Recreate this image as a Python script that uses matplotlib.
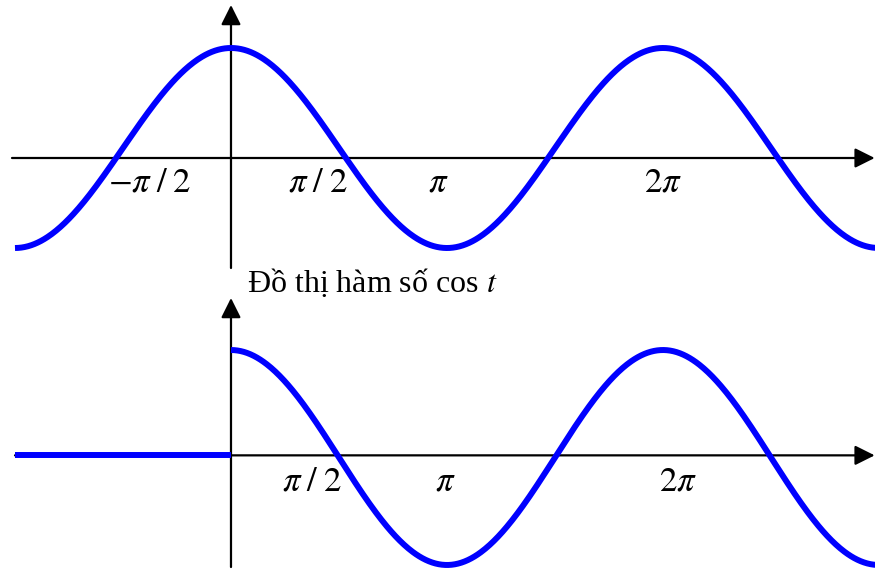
import numpy as np
import matplotlib.pyplot as plt

plt.rcParams['mathtext.fontset'] = 'stix'
plt.rcParams['font.family'] = ['Liberation Serif', 'DejaVu Serif']

# range of t for both curves (in radians)
t_start = -np.pi
t_end = 3 * np.pi

# tick labels of each panel and where they sit (multiples of pi)
top_labels = [r'$-\pi\;/\;2$', r'$\pi\;/\;2$', r'$\pi$', r'$2\pi$']
top_label_pos = [-0.375, 0.403, 0.958, 2.0]
bottom_labels = [r'$\pi\;/\;2$', r'$\pi$', r'$2\pi$']
bottom_label_pos = [0.375, 0.991, 2.07]

caption = 'Đồ thị hàm số cos $t$'

BLUE = '#0000ff'
xlim = (-1.0694 * np.pi, 2.9815 * np.pi)


def draw_axes(ax, x_from, level, y_from, y_to):
    arrow = dict(arrowstyle='-|>,head_length=0.6,head_width=0.3',
                 color='black', lw=1.6, mutation_scale=20, shrinkA=0, shrinkB=0)
    ax.annotate('', xy=(xlim[1] - 0.005, level), xytext=(x_from, level),
                arrowprops=arrow, annotation_clip=False)
    ax.annotate('', xy=(0, y_to), xytext=(0, y_from),
                arrowprops=arrow, annotation_clip=False)


def main():
    fig = plt.figure(figsize=(8.75, 5.71), dpi=100)

    # top panel: cos t over the whole range (the drawn t axis sits a bit low)
    ax1 = fig.add_axes([0, 296 / 571, 1, 275 / 571])
    ax1.set_xlim(*xlim)
    ax1.set_ylim(-1.27, 1.48)
    ax1.axis('off')
    draw_axes(ax1, -1.0694 * np.pi + (12 / 216) * np.pi, -0.10, -1.20, 1.43)
    t = np.linspace(t_start, t_end, 800)
    ax1.plot(t, np.cos(t), color=BLUE, lw=4.3, solid_capstyle='butt', zorder=3)
    for lab, p in zip(top_labels, top_label_pos):
        ax1.text(p * np.pi, -0.35, lab, fontsize=25, ha='center', va='center')

    # bottom panel: 0 for t < 0, cos t for t >= 0
    ax2 = fig.add_axes([0, 0, 1, 286 / 571])
    ax2.set_xlim(*xlim)
    ax2.set_ylim(-1.056, 1.605)
    ax2.axis('off')
    draw_axes(ax2, -1.0694 * np.pi + (15 / 216) * np.pi, 0.02, -1.019, 1.484)
    t_neg = np.array([t_start, 0])
    ax2.plot(t_neg, np.full_like(t_neg, 0.02), color=BLUE, lw=4.3,
             solid_capstyle='butt', zorder=3)
    t_pos = np.linspace(0, t_end, 600)
    ax2.plot(t_pos, np.cos(t_pos), color=BLUE, lw=4.3,
             solid_capstyle='butt', zorder=3)
    for lab, p in zip(bottom_labels, bottom_label_pos):
        ax2.text(p * np.pi, -0.228, lab, fontsize=25, ha='center', va='center')

    fig.text(247 / 875, 1 - 292 / 571, caption, fontsize=23,
             ha='left', va='baseline')

    fig.savefig('out.png', dpi=100)


if __name__ == '__main__':
    main()
